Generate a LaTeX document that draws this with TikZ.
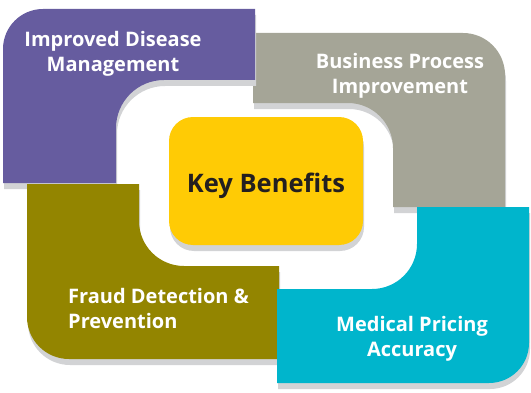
\documentclass[tikz,border=0pt]{standalone}
\usepackage{fontspec}
\setmainfont{Open Sans}
\definecolor{cpurple}{HTML}{665C9F}
\definecolor{cgray}{HTML}{A5A597}
\definecolor{colive}{HTML}{938500}
\definecolor{ccyan}{HTML}{00B5CC}
\definecolor{cyellow}{HTML}{FFCB05}
\definecolor{cshadow}{HTML}{D2D3D5}
\definecolor{cdark}{HTML}{231F20}
\tikzset{
  shade off/.style={fill=cshadow, shift={(1pt,-6pt)}},
  lbl/.style={text=white, font=\fontsize{20}{25}\selectfont\bfseries, inner sep=0pt},
}
\begin{document}
\begin{tikzpicture}[x=1pt,y=1pt]
\useasboundingbox (0,0) rectangle (531,392);
\def\grayshape{(253,359) -- (463,359) arc[start angle=90,end angle=0,radius=42] -- (505,185) -- (393,185) -- (393,244) arc[start angle=0,end angle=90,radius=45] -- (253,289) -- cycle}
\def\purpleshape{(3,209) -- (3,343) arc[start angle=180,end angle=90,radius=40] -- (255,383) -- (255,312) -- (164,312) arc[start angle=90,end angle=180,radius=48] -- (116,209) -- cycle}
\def\oliveshape{(27,208) -- (139,208) -- (139,171) arc[start angle=180,end angle=270,radius=45] -- (279,126) -- (279,33) -- (69,33) arc[start angle=270,end angle=180,radius=42] -- cycle}
\def\cyanshape{(417,185) -- (529,185) -- (529,49) arc[start angle=0,end angle=-90,radius=40] -- (277,9) -- (277,103) -- (372,103) arc[start angle=270,end angle=360,radius=45] -- cycle}
\fill[shade off] \grayshape;
\fill[cgray] \grayshape;
\fill[shade off] \purpleshape;
\fill[cpurple] \purpleshape;
\fill[shade off] \oliveshape;
\fill[colive] \oliveshape;
\fill[shade off] \cyanshape;
\fill[ccyan] \cyanshape;
\fill[shade off, rounded corners=24pt] (169,147) rectangle (363,275);
\fill[cyellow, rounded corners=24pt] (169,147) rectangle (363,275);
\node[anchor=base, text=cdark, font=\fontsize{25.5}{30}\selectfont\bfseries, inner sep=0pt] (key) at (266,200) {Key Benefits};
\node[lbl, align=center] (idm) at (113,338) {Improved Disease\\Management};
\node[lbl, align=center] (bpi) at (400,316.5) {Business Process\\Improvement};
\node[lbl, align=left, anchor=west] (fdp) at (68,84) {Fraud Detection \&\\Prevention};
\node[lbl, align=center] (mpa) at (412,53.5) {Medical Pricing\\Accuracy};
\end{tikzpicture}
\end{document}
